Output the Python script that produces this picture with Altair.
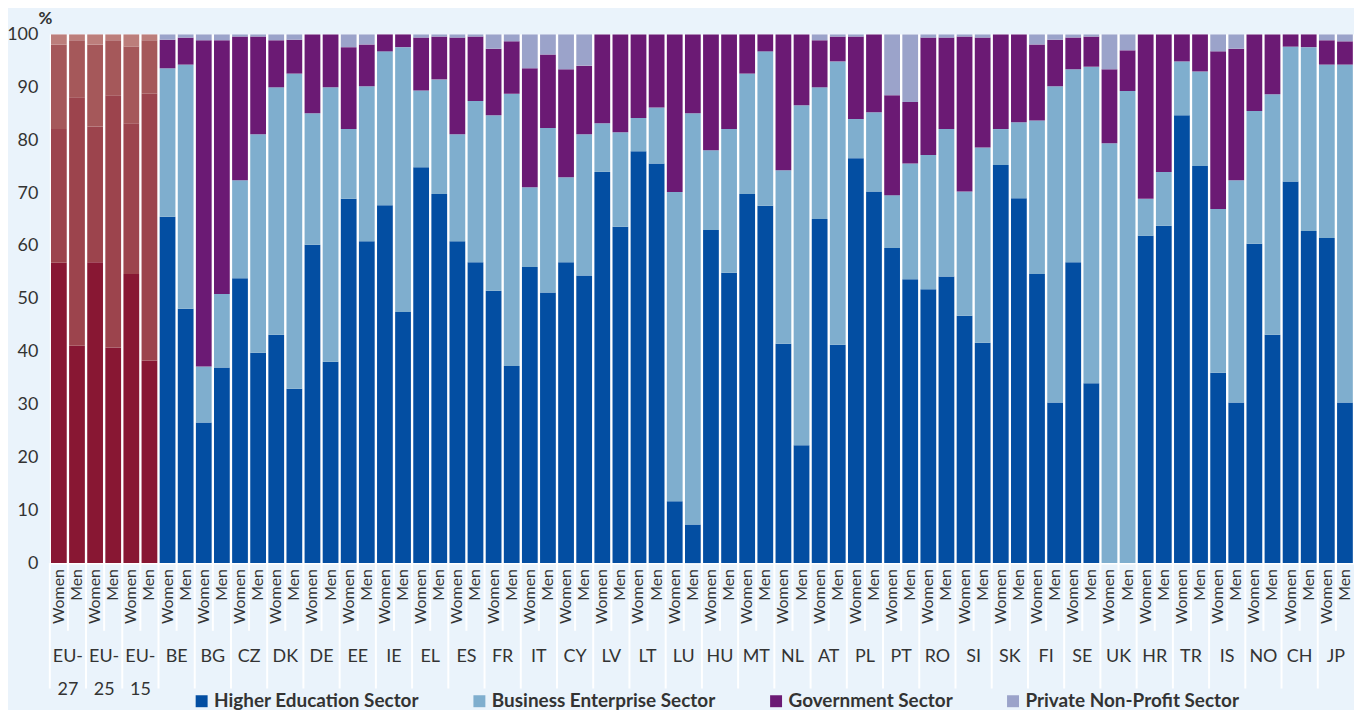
import altair as alt
import pandas as pd

countries = ["EU-27", "EU-25", "EU-15", "BE", "BG", "CZ", "DK", "DE", "EE", "IE", "EL", "ES",
             "FR", "IT", "CY", "LV", "LT", "LU", "HU", "MT", "NL", "AT", "PL", "PT", "RO", "SI",
             "SK", "FI", "SE", "UK", "HR", "TR", "IS", "NO", "CH", "JP"]
sexes = ["Women", "Men"]
sectors = ["Higher Education Sector", "Business Enterprise Sector",
           "Government Sector", "Private Non-Profit Sector"]

# values per country: (Women, Men)
higher_education = [56.8, 41.1, 56.9, 40.8, 54.7, 38.3, 65.5, 48.1, 26.6, 37.0, 53.9, 39.8,
                    43.2, 33.0, 60.2, 38.1, 68.9, 60.9, 67.7, 47.5, 74.9, 69.8, 60.9, 56.9,
                    51.5, 37.3, 56.0, 51.2, 56.9, 54.4, 74.0, 63.6, 77.9, 75.6, 11.7, 7.3,
                    63.0, 54.9, 69.8, 67.6, 41.5, 22.3, 65.1, 41.3, 76.6, 70.3, 59.6, 53.7,
                    51.8, 54.2, 46.8, 41.7, 75.3, 69.0, 54.7, 30.4, 56.9, 34.0, 0.0, 0.0,
                    61.9, 63.8, 84.7, 75.1, 36.0, 30.4, 60.4, 43.2, 72.2, 62.8, 61.5, 30.4]
business_enterprise = [25.3, 47.0, 25.7, 47.7, 28.5, 50.5, 28.1, 46.2, 10.6, 13.9, 18.5, 41.3,
                       46.8, 59.6, 24.9, 51.9, 13.2, 29.3, 29.1, 50.1, 14.5, 21.7, 20.2, 30.5,
                       33.2, 51.5, 15.1, 31.1, 16.1, 26.7, 9.2, 17.9, 6.3, 10.6, 58.5, 77.8,
                       15.1, 27.2, 22.8, 29.2, 32.8, 64.3, 24.9, 53.6, 7.4, 15.0, 10.0, 21.9,
                       25.4, 27.9, 23.5, 36.9, 6.8, 14.4, 29.0, 59.8, 36.5, 59.9, 79.4, 89.3,
                       7.0, 10.2, 10.2, 17.9, 31.0, 42.0, 25.1, 45.5, 25.5, 34.8, 32.8, 63.9]
government = [16.0, 10.8, 15.5, 10.4, 14.5, 10.1, 5.4, 5.1, 61.7, 48.0, 27.2, 18.5,
              8.9, 6.4, 14.9, 10.0, 15.5, 7.9, 3.2, 2.4, 10.0, 8.1, 18.3, 12.2,
              12.6, 9.9, 22.5, 13.9, 20.4, 13.0, 16.8, 18.5, 15.8, 13.8, 29.8, 14.9,
              21.9, 17.9, 7.4, 3.2, 25.7, 13.4, 8.9, 4.7, 15.6, 14.7, 18.9, 11.6,
              22.2, 17.3, 29.3, 20.8, 17.9, 16.6, 14.4, 8.8, 6.0, 5.7, 14.0, 7.7,
              31.1, 26.0, 5.1, 7.0, 29.8, 24.9, 14.5, 11.3, 2.3, 2.4, 4.6, 4.4]
private_non_profit = [1.9, 1.1, 1.9, 1.1, 2.3, 1.1, 1.0, 0.6, 1.1, 1.1, 0.4, 0.4,
                      1.1, 1.0, 0.0, 0.0, 2.4, 1.9, 0.0, 0.0, 0.6, 0.4, 0.6, 0.4,
                      2.7, 1.3, 6.4, 3.8, 6.6, 5.9, 0.0, 0.0, 0.0, 0.0, 0.0, 0.0,
                      0.0, 0.0, 0.0, 0.0, 0.0, 0.0, 1.1, 0.4, 0.4, 0.0, 11.5, 12.8,
                      0.6, 0.6, 0.4, 0.6, 0.0, 0.0, 1.9, 1.0, 0.6, 0.4, 6.6, 3.0,
                      0.0, 0.0, 0.0, 0.0, 3.2, 2.7, 0.0, 0.0, 0.0, 0.0, 1.1, 1.3]

blue_colors = ["#034EA2", "#7FAECE", "#6B1A74", "#9BA3CA"]
eu_colors = ["#881733", "#9C444D", "#A5585A", "#BC7E7B"]

series = [higher_education, business_enterprise, government, private_non_profit]
rows = []
for ci, c in enumerate(countries):
    for si, s in enumerate(sexes):
        idx = ci * 2 + si
        for k, sec in enumerate(sectors):
            key = ("EU " + sec) if c.startswith("EU-") else sec
            rows.append({"country": c, "sex": s, "sector": sec, "key": key,
                         "order": k, "value": series[k][idx]})
df = pd.DataFrame(rows)
cdf = pd.DataFrame({"country": countries})

FONT = "Lato"
TXT = "#333333"
H = 531

x_axis = alt.Axis(title=None, ticks=False, labelAngle=0, labelPadding=85, labelFontSize=18,
                  labelLineHeight=33, labelFont=FONT, labelColor=TXT,
                  domainColor="white", domainWidth=2,
                  labelExpr="substring(datum.value, 0, 3) == 'EU-' ? ['EU-', substring(datum.value, 3)] : datum.value")
x_scale = alt.Scale(paddingInner=0, paddingOuter=0)
xo = alt.XOffset("sex:N", sort=sexes, scale=alt.Scale(paddingInner=0.13, paddingOuter=0.065))

bars = alt.Chart(df).mark_bar().encode(
    x=alt.X("country:N", sort=countries, scale=x_scale, axis=x_axis),
    xOffset=xo,
    y=alt.Y("value:Q", stack="zero", scale=alt.Scale(domain=[0, 100], nice=False),
            axis=alt.Axis(values=list(range(0, 101, 10)), grid=False, ticks=False, domain=False,
                          labelFontSize=18, labelFont=FONT, labelColor=TXT, labelPadding=12,
                          title="%", titleAngle=0, titleFontWeight="bold", titleFontSize=17,
                          titleFont=FONT, titleColor=TXT, titleX=-5, titleY=-11,
                          titleAlign="center", titleBaseline="alphabetic")),
    color=alt.Color("key:N",
                    scale=alt.Scale(domain=sectors + ["EU " + s for s in sectors],
                                    range=blue_colors + eu_colors),
                    legend=alt.Legend(values=sectors, title=None, orient="none", legendX=143,
                                      legendY=660, direction="horizontal", columns=4,
                                      columnPadding=51, symbolType="square", symbolSize=144,
                                      symbolStrokeWidth=0, labelFontSize=19,
                                      labelFontWeight="bold", labelFont=FONT, labelColor=TXT,
                                      labelLimit=0, labelOffset=3)),
    order=alt.Order("order:Q", sort="ascending"),
)

sex_labels = alt.Chart(df).transform_filter(alt.datum.order == 0).mark_text(
    angle=270, align="right", baseline="middle", fontSize=16, font=FONT, color=TXT
).encode(
    x=alt.X("country:N", sort=countries, scale=x_scale, axis=x_axis),
    xOffset=xo,
    y=alt.value(H + 6),
    text="sex:N",
)

inner_sep = alt.Chart(cdf).mark_rule(color="white", strokeWidth=2).encode(
    x=alt.X("country:N", sort=countries, scale=x_scale, axis=x_axis, bandPosition=0.5),
    y=alt.value(H),
    y2=alt.value(H + 68),
)

group_sep = alt.Chart(cdf).mark_rule(color="white", strokeWidth=2).encode(
    x=alt.X("country:N", sort=countries, scale=x_scale, axis=x_axis, bandPosition=0),
    y=alt.value(H),
    y2=alt.value(H + 126),
)

chart = alt.layer(bars, inner_sep, group_sep, sex_labels).properties(
    width=1310, height=H,
    autosize=alt.AutoSizeParams(type="none"),
    padding={"left": 42, "top": 25, "right": 0, "bottom": 146},
).configure(
    background="#EAF3FB", font=FONT
).configure_view(fill="white", strokeWidth=0)

chart.save("out.html", embed_options={"renderer": "svg", "actions": False})
